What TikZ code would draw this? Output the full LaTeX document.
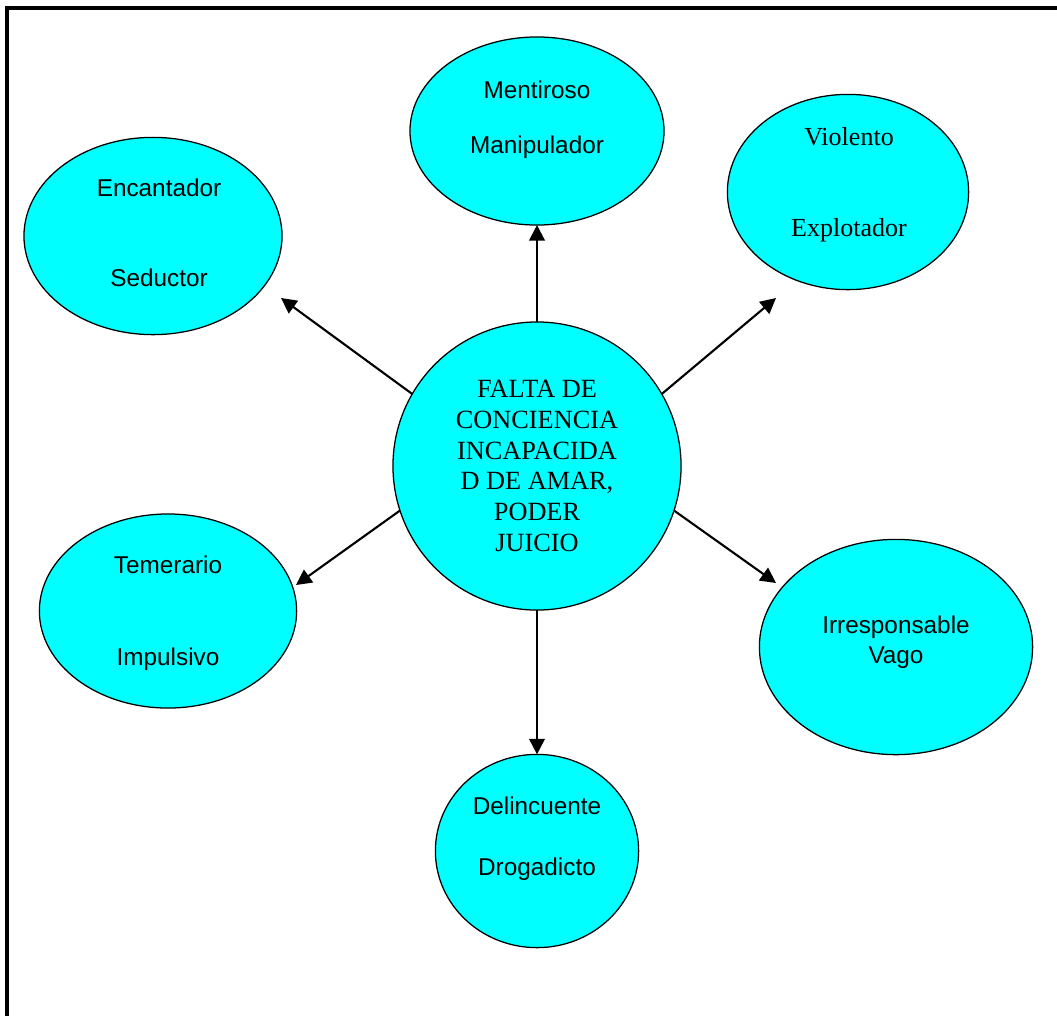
\documentclass[tikz,border=0pt]{standalone}
\usepackage{fontspec}
\setmainfont{Liberation Serif}
\setsansfont{Liberation Sans}
\usepackage{xcolor}
\usetikzlibrary{arrows.meta,shapes.geometric}
\definecolor{aqua}{HTML}{00FFFF}

\begin{document}
\begin{tikzpicture}[
      x=0.025cm, y=-0.025cm,
      blob/.style={draw, ellipse, fill=aqua, line width=0.9pt, inner sep=0pt, outer sep=0pt},
      sanstxt/.style={font=\sffamily\fontsize{17.3}{21}\selectfont, align=center},
      seriftxt/.style={font=\fontsize{18.5}{22}\selectfont, align=center},
      arr/.style={-{Triangle[length=11pt, width=11pt]}, line width=1.5pt},
    ]
    \useasboundingbox (0,0) rectangle (1057,1015);
    % frame, open at right and bottom
    \draw[line width=2.2pt] (7,1040) -- (7,8) -- (1080,8);

    % centre
    \node[blob, circle, minimum size=7.2cm, font=\fontsize{18.7}{21.8}\selectfont, align=center]
      (core) at (537,466) {FALTA DE\\CONCIENCIA\\INCAPACIDA\\D DE AMAR,\\PODER\\JUICIO};

    % traits
    \node[blob, minimum width=6.35cm, minimum height=4.7cm]  (ment) at (537,131) {};
    \node[blob, minimum width=6.03cm, minimum height=4.88cm] (viol) at (848,192) {};
    \node[blob, minimum width=6.45cm, minimum height=4.93cm] (enc)  at (153,236) {};
    \node[blob, minimum width=6.43cm, minimum height=4.85cm] (tem)  at (168,611) {};
    \node[blob, minimum width=6.83cm, minimum height=5.38cm] (irr)  at (896,647) {};
    \node[blob, minimum width=5.08cm, minimum height=4.83cm] (del)  at (537,851) {};

    \node[sanstxt]  (mentT) at (537,120) {Mentiroso\\[18pt]Manipulador};
    \node[seriftxt] (violT) at (849,185)   {Violento\\[43pt]Explotador};
    \node[sanstxt]  (encT)  at (159,233)   {Encantador\\[43pt]Seductor};
    \node[sanstxt]  (temT)  at (168,613)   {Temerario\\[44pt]Impulsivo};
    \node[sanstxt]  (irrT)  at (896,642) {Irresponsable\\Vago};
    \node[sanstxt]  (delT)  at (537,838.5) {Delincuente\\[22pt]Drogadicto};

    % arrow tips that stop short of the ellipses
    \coordinate (tipEnc) at (281,298);
    \coordinate (tipViol) at (776,298);
    \coordinate (tipTem) at (296,585);
    \coordinate (tipIrr) at (776,583);

    \draw[arr] (core.north) -- (ment.south);
    \draw[arr] (core.150) -- (tipEnc);
    \draw[arr] (core.30) -- (tipViol);
    \draw[arr] (core.198) -- (tipTem);
    \draw[arr] (core.342) -- (tipIrr);
    \draw[arr] (core.south) -- (del.north);
  \end{tikzpicture}
\end{document}
